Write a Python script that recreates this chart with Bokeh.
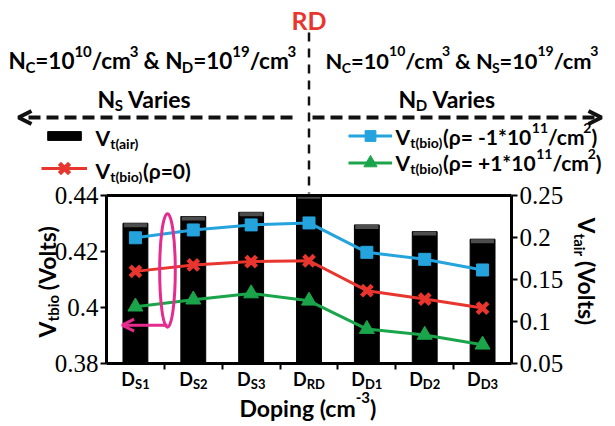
from math import pi
from bokeh.plotting import figure
from bokeh.models import (Range1d, LinearAxis, FixedTicker, Label, Arrow, OpenHead,
                          Legend, LegendItem)
from bokeh.embed import file_html
from bokeh.resources import INLINE

# ---------------- data ----------------
doping_subscripts = ["S1", "S2", "S3", "RD", "D1", "D2", "D3"]   # labels are D_<sub>
vt_air = [0.217, 0.225, 0.230, 0.251, 0.215, 0.207, 0.198]          # right axis (bars)
vt_bio_neg = [0.4249, 0.4277, 0.4295, 0.4302, 0.4197, 0.4172, 0.4134]  # rho = -1e11
vt_bio_zero = [0.4129, 0.4152, 0.4164, 0.4167, 0.4060, 0.4030, 0.3998]  # rho = 0
vt_bio_pos = [0.4003, 0.4028, 0.4050, 0.4024, 0.3923, 0.3902, 0.3867]  # rho = +1e11
left_ticks = [0.38, 0.40, 0.42, 0.44]
left_tick_labels = ["0.38", "0.4", "0.42", "0.44"]
right_ticks = [0.05, 0.10, 0.15, 0.20, 0.25]
right_tick_labels = ["0.05", "0.1", "0.15", "0.2", "0.25"]

# ---------------- style / layout ----------------
W, H = 615, 426
FL, FR, FT, FB = 106, 511, 195, 363     # chart box edges in canvas pixels
BLUE, RED, GREEN, PINK = "#25a3dd", "#e8362e", "#1ba54b", "#e62b8f"
FONT = "Lato"
SERIF = "Liberation Serif"
TEXT_DY = -5          # baseline correction for horizontal labels

n = len(doping_subscripts)
xs = [i + 0.5 for i in range(n)]

# the plotting frame covers the whole canvas; ranges are extended so that the
# chart box (0..n, tick limits) lands on FL..FR / FB..FT
xpx = (FR - FL) / n
lo, hi = left_ticks[0], left_ticks[-1]
lpx = (hi - lo) / (FB - FT)
rlo, rhi = right_ticks[0], right_ticks[-1]
rpx = (rhi - rlo) / (FB - FT)

p = figure(width=W, height=H,
           x_range=Range1d(-FL / xpx, n + (W - FR) / xpx),
           y_range=Range1d(lo - (H - FB) * lpx, hi + FT * lpx),
           x_axis_type=None, y_axis_type=None,
           output_backend="svg", toolbar_location=None,
           min_border_left=0, min_border_right=0, min_border_top=0, min_border_bottom=0)
p.extra_y_ranges = {"right": Range1d(rlo - (H - FB) * rpx, rhi + FT * rpx)}
p.grid.visible = False
p.outline_line_color = None
p.background_fill_color = "white"
p.border_fill_color = "white"


def style_axis(ax):
    ax.axis_line_width = 3
    ax.axis_line_color = "black"
    ax.major_tick_line_width = 2
    ax.major_tick_line_color = "black"
    ax.major_tick_out = 6
    ax.major_tick_in = 0
    ax.minor_tick_line_color = None
    ax.major_label_text_font = SERIF
    ax.major_label_text_font_size = "25px"
    ax.major_label_text_color = "black"
    ax.major_label_standoff = 2


# bottom axis: ticks on category boundaries, labels drawn as rich text below
xa = LinearAxis(fixed_location=lo, bounds=(0, n),
                ticker=FixedTicker(ticks=xs, minor_ticks=list(range(1, n))))
style_axis(xa)
xa.major_tick_line_color = None
xa.minor_tick_line_color = "black"
xa.minor_tick_line_width = 2
xa.minor_tick_out = 6
xa.minor_tick_in = 0
xa.major_label_overrides = {x: "" for x in xs}
xa.major_label_text_font_size = "1px"
p.add_layout(xa, "below")

# top border of the box
ta = LinearAxis(fixed_location=hi, bounds=(0, n), ticker=FixedTicker(ticks=[]))
style_axis(ta)
ta.major_label_text_font_size = "1px"
p.add_layout(ta, "above")

ya = LinearAxis(fixed_location=0, bounds=(lo, hi), ticker=FixedTicker(ticks=left_ticks),
                major_label_overrides=dict(zip(left_ticks, left_tick_labels)))
style_axis(ya)
p.add_layout(ya, "left")

ra = LinearAxis(y_range_name="right", fixed_location=n, bounds=(rlo, rhi),
                ticker=FixedTicker(ticks=right_ticks),
                major_label_overrides=dict(zip(right_ticks, right_tick_labels)))
style_axis(ra)
p.add_layout(ra, "right")

# ---------------- glyphs ----------------
bars = p.vbar(x=xs, top=vt_air, bottom=rlo, width=0.43,
              y_range_name="right", fill_color="black", line_color="black")
# grey rounded-looking cap on the bar tops
p.vbar(x=xs, top=vt_air, bottom=[v - 4 * rpx for v in vt_air], width=0.40,
       y_range_name="right", fill_color="#4d4d4d", line_color=None)

bl = p.line(xs, vt_bio_neg, line_color=BLUE, line_width=3)
bm = p.scatter(xs, vt_bio_neg, marker="square", size=12, fill_color=BLUE, line_color=BLUE)
rl = p.line(xs, vt_bio_zero, line_color=RED, line_width=3)
rm = p.scatter(xs, vt_bio_zero, marker="x", size=15, line_color=RED, line_width=4.5)
gl = p.line(xs, vt_bio_pos, line_color=GREEN, line_width=3)
gm = p.scatter(xs, vt_bio_pos, marker="triangle", size=15, fill_color=GREEN, line_color=GREEN)

# pink ellipse + arrow pointing to the left axis
p.ellipse(x=[1.054], y=[0.4132], width=[0.27], height=[0.0405],
          fill_alpha=0, line_color=PINK, line_width=3)
p.add_layout(Arrow(x_start=1.054, y_start=0.3937, x_end=0.27, y_end=0.3937,
                   line_color=PINK, line_width=3,
                   end=OpenHead(size=12, line_color=PINK, line_width=3)))


# ---------------- helpers for screen-placed text ----------------
WID = {' ': .23, '.': .22, '=': .58, '+': .58, '-': .37, '/': .37, '*': .42,
       '(': .31, ')': .31, '&': .72, 'N': .75, 'C': .66, 'D': .76, 'S': .53,
       'V': .70, 'R': .65, 'a': .50, 'b': .56, 'c': .46, 'e': .52, 'g': .51,
       'i': .25, 'l': .25, 'm': .85, 'n': .56, 'o': .56, 'p': .56, 'r': .37,
       's': .41, 't': .35, 'ρ': .58}


def tw(text, size):
    return sum(WID.get(ch, .58) for ch in text) * size


def rich(X, Y, parts, size, angle=0.0, color="black", xdata=None, subf=0.65):
    """Place text made of normal/sub/sup parts. X,Y canvas px (baseline start)."""
    pos = 0.0
    for text, kind in parts:
        s = size if kind == "n" else round(size * subf)
        lead = len(text) - len(text.lstrip(" "))
        pos += tw(" " * lead, s)
        body = text.strip(" ")
        trail = len(text) - lead - len(body)
        shift = {"n": 0.0, "sub": 0.30 * size, "sup": -0.42 * size}[kind]
        if angle == 0:
            cx, cy = X + pos, Y + shift + TEXT_DY
        elif angle > 0:          # reads upward
            cx, cy = X + shift, Y - pos
        else:                    # reads downward
            cx, cy = X - shift, Y + pos
        kw = dict(text=body, angle=angle, text_font=FONT, text_font_style="bold",
                  text_font_size=f"{s}px", text_color=color,
                  text_align="left", text_baseline="alphabetic",
                  y=H - cy, y_units="screen")
        if xdata is None:
            kw.update(x=cx, x_units="screen")
        else:
            kw.update(x=xdata, x_units="data", x_offset=cx)
        p.add_layout(Label(**kw))
        pos += tw(body, s) + tw(" " * trail, s)
    return pos


def rich_width(parts, size, subf=0.65):
    return sum(tw(t, size if k == "n" else round(size * subf)) for t, k in parts)


# x tick labels D_xx centred on categories
for x, sub in zip(xs, doping_subscripts):
    parts = [("D", "n"), (sub, "sub")]
    wdt = rich_width(parts, 18, subf=0.72)
    rich(-wdt / 2, 383, parts, 18, xdata=x, subf=0.72)

# x axis title
rich(239, 412, [("Doping (cm", "n"), ("-3", "sup"), (")", "n")], 23)

# y axis titles
rich(46, 337, [("V", "n"), ("tbio", "sub"), (" (Volts)", "n")], 23, angle=pi / 2)
rich(586, 217, [("V", "n"), ("tair", "sub"), (" (Volts)", "n")], 23, angle=-pi / 2)

# header texts
xc = FL + xs[3] * xpx
p.add_layout(Label(x=xc, y=H - 24 - TEXT_DY, x_units="screen", y_units="screen",
                   text="RD", text_font=FONT, text_font_style="bold", text_font_size="25px",
                   text_color=RED, text_align="center", text_baseline="alphabetic"))
hdr_l = [("N", "n"), ("C", "sub"), ("=10", "n"), ("10", "sup"), ("/cm", "n"), ("3", "sup"),
         (" & N", "n"), ("D", "sub"), ("=10", "n"), ("19", "sup"), ("/cm", "n"), ("3", "sup")]
hdr_r = [("N", "n"), ("C", "sub"), ("=10", "n"), ("10", "sup"), ("/cm", "n"), ("3", "sup"),
         (" & N", "n"), ("S", "sub"), ("=10", "n"), ("19", "sup"), ("/cm", "n"), ("3", "sup")]
rich(8, 65, hdr_l, 22.5)
rich(325, 65, hdr_r, 21.8)
rich(97, 103, [("N", "n"), ("S", "sub"), (" Varies", "n")], 23)
rich(398, 103, [("N", "n"), ("D", "sub"), (" Varies", "n")], 23)

# dashed guide lines / arrows
p.add_layout(Arrow(x_start=xc, y_start=H - 32, x_end=xc, y_end=H - 193,
                   start_units="screen", end_units="screen", end=None,
                   line_color="#111111", line_width=2.5, line_dash="9 7"))
p.add_layout(Arrow(x_start=292, y_start=H - 117, x_end=18, y_end=H - 117,
                   start_units="screen", end_units="screen",
                   line_color="#111111", line_width=4, line_dash="12 6",
                   end=OpenHead(size=13, line_color="#111111", line_width=4)))
p.add_layout(Arrow(x_start=312, y_start=H - 117, x_end=601, y_end=H - 117,
                   start_units="screen", end_units="screen",
                   line_color="#111111", line_width=4, line_dash="12 6",
                   end=OpenHead(size=13, line_color="#111111", line_width=4)))


# ---------------- legend (swatches via Legend, text via Labels) ----------------
def swatch(renderers, left, cy, gw, gh):
    # legend markers are drawn at 0.4 * min(glyph box) -> tall boxes for big markers
    leg = Legend(items=[LegendItem(label=" ", renderers=renderers)],
                 location=(left, H - (cy + gh / 2)), orientation="vertical",
                 glyph_width=gw, glyph_height=gh, padding=0, margin=0, spacing=0,
                 label_width=0, label_height=gh, label_standoff=0,
                 label_text_font_size="1px", border_line_color=None,
                 background_fill_alpha=0)
    p.add_layout(leg)


swatch([bars], 43, 135.5, 42, 11)
swatch([rl, rm], 41, 168, 46, 36)
swatch([bl, bm], 348, 135, 44, 27)
swatch([gl, gm], 348, 162, 44, 33)

rich(95, 142, [("V", "n"), ("t(air)", "sub")], 21)
rich(95, 175, [("V", "n"), ("t(bio)", "sub"), ("(ρ=0)", "n")], 21)
rich(395, 141, [("V", "n"), ("t(bio)", "sub"), ("(ρ= -1*10", "n"), ("11", "sup"),
                ("/cm", "n"), ("2", "sup"), (")", "n")], 21)
rich(395, 167, [("V", "n"), ("t(bio)", "sub"), ("(ρ= +1*10", "n"), ("11", "sup"),
                ("/cm", "n"), ("2", "sup"), (")", "n")], 21)

open("out.html", "w").write(file_html(p, INLINE))
